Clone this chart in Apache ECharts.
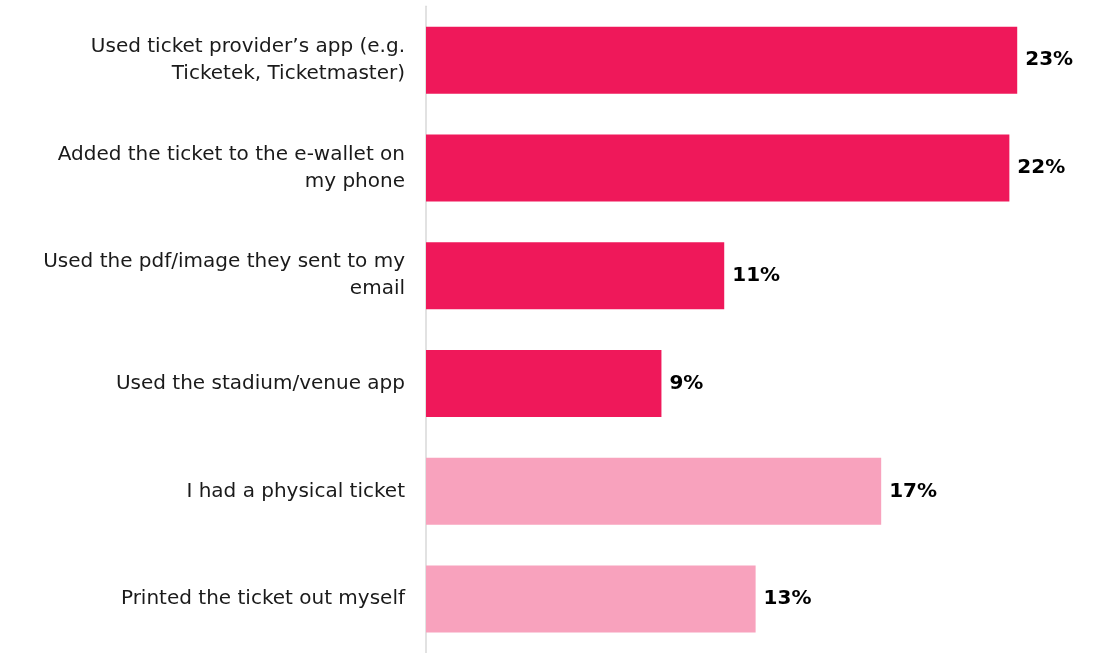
<!DOCTYPE html>
<html>
<head>
<meta charset="utf-8">
<script src="https://cdn.jsdelivr.net/npm/echarts@6/dist/echarts.min.js"></script>
<style>
html,body{margin:0;padding:0;background:#fff;}
#c{width:1104px;height:653px;}
</style>
</head>
<body>
<div id="c"></div>
<script>
const categories = [
  "Used ticket provider\u2019s app (e.g.\nTicketek, Ticketmaster)",
  "Added the ticket to the e-wallet on\nmy phone",
  "Used the pdf/image they sent to my\nemail",
  "Used the stadium/venue app",
  "I had a physical ticket",
  "Printed the ticket out myself"
];
const values = [22.6, 22.3, 11.4, 9.0, 17.4, 12.6];
const barColors = ["#EF185A", "#EF185A", "#EF185A", "#EF185A", "#F8A2BD", "#F8A2BD"];

const chart = echarts.init(document.getElementById('c'), null, {renderer: 'canvas'});
chart.setOption({
  animation: false,
  backgroundColor: '#ffffff',
  grid: {left: 426, right: 24, top: 6.3, height: 650.8, containLabel: false},
  xAxis: {
    type: 'value', min: 0, max: 25,
    show: false
  },
  yAxis: {
    type: 'category', data: categories, inverse: true,
    axisLine: {show: true, lineStyle: {color: '#d9d9d9', width: 1.5}},
    axisTick: {show: false},
    axisLabel: {
      margin: 21, color: '#1a1a1a', fontSize: 20, lineHeight: 27,
      fontFamily: 'DejaVu Sans', align: 'right'
    }
  },
  series: [{
    type: 'bar',
    barWidth: 67,
    data: values.map((v, i) => ({value: v, itemStyle: {color: barColors[i]}})),
    label: {
      show: true, position: 'right', distance: 8,
      formatter: p => Math.round(p.value) + '%',
      color: '#000', fontWeight: 'bold', fontSize: 20, fontFamily: 'DejaVu Sans'
    }
  }]
});
</script>
</body>
</html>
